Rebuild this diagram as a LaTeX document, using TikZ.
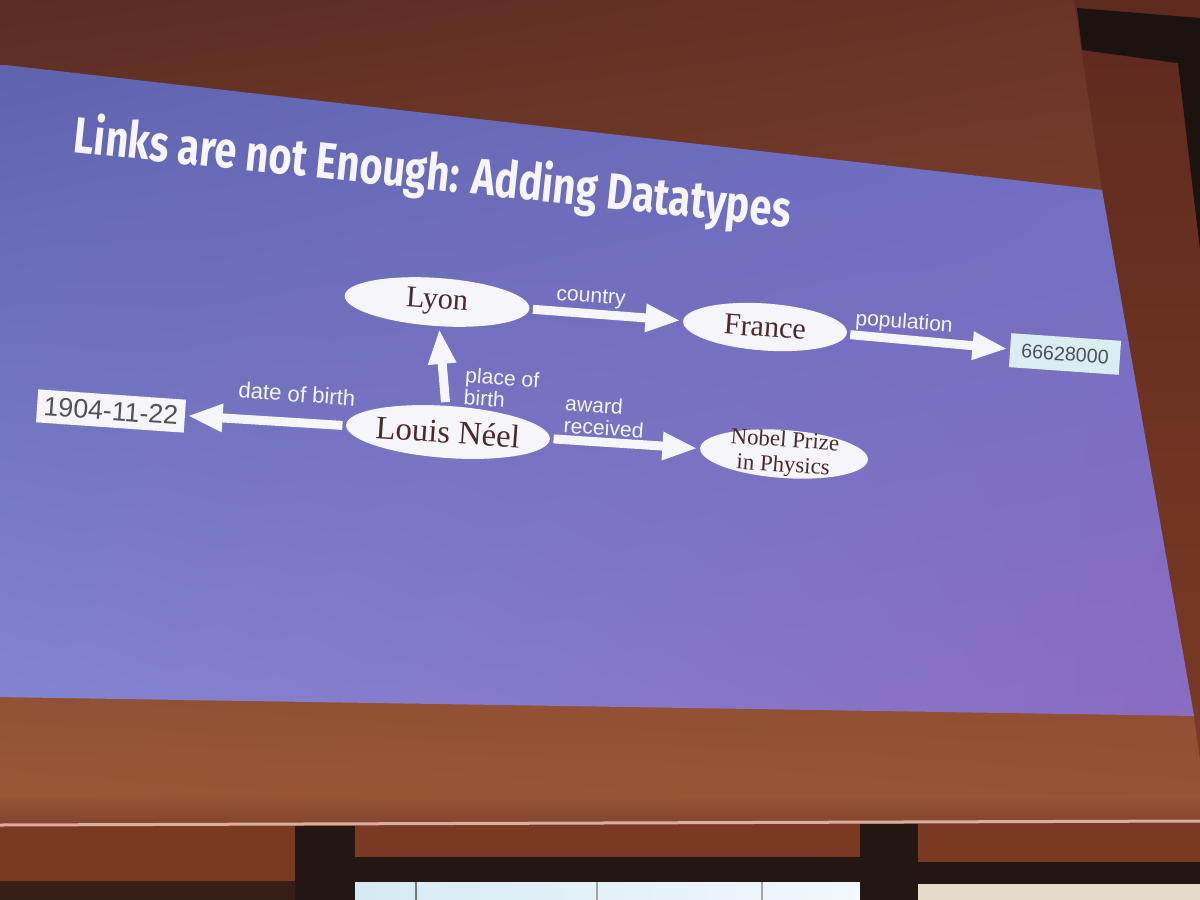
\documentclass[tikz,border=0pt]{standalone}
\usepackage{fontspec}
\usepackage{graphicx}
\setmainfont{Liberation Serif}
\setsansfont{Liberation Sans}
\newfontfamily\headfont{Fira Sans}
\usetikzlibrary{shapes.geometric,arrows.meta,shadings}

% room and screen
\definecolor{wallTL}{HTML}{5B2C22}
\definecolor{wallTR}{HTML}{6A3426}
\definecolor{wallBL}{HTML}{A25C3A}
\definecolor{wallBR}{HTML}{9C5636}
\definecolor{panelTop}{HTML}{5E2A1E}
\definecolor{panelBot}{HTML}{7A3A24}
\definecolor{frameblack}{HTML}{1C1210}
\definecolor{rollTop}{HTML}{9A5638}
\definecolor{rollBot}{HTML}{82442E}
\definecolor{screenedge}{HTML}{D8B0A0}
\definecolor{lowwall}{HTML}{7A3A22}
\definecolor{winframe}{HTML}{241713}
\definecolor{winlight}{HTML}{D6EAF4}
\definecolor{winbright}{HTML}{F2F8FC}
\definecolor{blind}{HTML}{E4DACA}
% slide
\definecolor{slideTL}{HTML}{5F63AE}
\definecolor{slideTR}{HTML}{6E70C2}
\definecolor{slideBL}{HTML}{8385D2}
\definecolor{slideBR}{HTML}{8A6CC2}
\definecolor{inkwhite}{HTML}{F5F5FA}
\definecolor{inkbrown}{HTML}{4A2A2C}
\definecolor{inkgray}{HTML}{505058}
\definecolor{datewhite}{HTML}{F6F6FA}
\definecolor{popcyan}{HTML}{DAEEF2}

\begin{document}
\begin{tikzpicture}[x=0.01cm,y=-0.01cm,
  entity/.style={ellipse, fill=inkwhite, inner xsep=0pt, inner ysep=-2.5pt,
    rotate=-4, text=inkbrown, align=center},
  literal/.style={rectangle, inner sep=0pt, rotate=-4, text=inkgray},
  rel/.style={draw=inkwhite, line width=0.09cm,
    -{Triangle[length=0.35cm,width=0.26cm]},
    shorten <=0.03cm, shorten >=0.02cm},
  lbl/.style={text=inkwhite, rotate=-4, inner sep=0pt, align=left,
    font=\sffamily\fontsize{6}{6.3}\selectfont}]
\useasboundingbox (0,0) rectangle (1200,900);

% wall and screen face
\shade[upper left=wallTL, upper right=wallTR, lower left=wallBL,
  lower right=wallBR] (0,0) rectangle (1200,900);
% side panel of the screen casing
\shade[top color=panelTop, bottom color=panelBot]
  (1074,0) -- (1200,0) -- (1200,760) -- (1194,716) -- (1102,190) -- cycle;
\fill[frameblack] (1077,8) -- (1200,18) -- (1200,60) -- (1177,63) -- (1082,50) -- cycle;
\fill[frameblack] (1177,55) -- (1200,55) -- (1200,250) -- cycle;

% projected slide
\shade[upper left=slideTL, upper right=slideTR, lower left=slideBL,
  lower right=slideBR] (5,65) -- (1102,190) -- (1194,716) -- (-4,697) -- (-4,65) -- cycle;

% lower roll of the screen
\shade[top color=rollTop, bottom color=rollBot]
  (0,798) -- (1200,794) -- (1200,821) -- (0,825) -- cycle;
\fill[lowwall] (0,826) -- (1200,822) -- (1200,900) -- (0,900) -- cycle;
\draw[screenedge, line width=0.03cm] (0,825) -- (1200,821);

% windows below the screen
\fill[winframe!80!lowwall] (0,881) rectangle (295,900);
\fill[winframe] (295,826) rectangle (355,900);
\fill[winframe] (355,857) rectangle (860,882);
\shade[left color=winlight, right color=winbright] (355,882) rectangle (860,900);
\fill[winframe!60!white] (415,882) rectangle (417,900);
\fill[winframe!40!white] (596,882) rectangle (598,900);
\fill[winframe!40!white] (761,882) rectangle (763,900);
\fill[winframe] (860,824) rectangle (918,900);
\fill[winframe] (918,862) rectangle (1200,884);
\fill[blind] (918,884) rectangle (1200,900);

% title
\node[anchor=base west, rotate=-6, inner sep=0pt, text=inkwhite] (title) at (72,152)
  {\resizebox{7.2cm}{\height}{\headfont\bfseries\fontsize{14.5}{16}\selectfont
   Links are not Enough: Adding Datatypes}};

% resources
\node[entity, minimum width=1.85cm, minimum height=0.48cm,
  font=\rmfamily\fontsize{8.6}{10}\selectfont] (lyon) at (437,302) {Lyon};
\node[entity, minimum width=1.64cm, minimum height=0.47cm,
  font=\rmfamily\fontsize{8.6}{10}\selectfont] (france) at (765,327) {France};
\node[entity, minimum width=1.86cm, minimum height=0.52cm,
  font=\rmfamily\fontsize{9.3}{11}\selectfont] (louis) at (448,432) {Louis Néel};
\node[entity, minimum width=1.68cm, minimum height=0.48cm, inner ysep=-3.5pt,
  font=\rmfamily\fontsize{6.5}{7.1}\selectfont] (nobel) at (784,454) {Nobel Prize\\in Physics};

% literal values
\node[literal, fill=datewhite, minimum width=1.48cm, minimum height=0.33cm,
  font=\sffamily\fontsize{7.6}{9}\selectfont] (date) at (111,411) {1904-11-22};
\node[literal, fill=popcyan, minimum width=1.1cm, minimum height=0.34cm,
  font=\sffamily\fontsize{5.6}{7}\selectfont] (pop) at (1065,354) {66628000};

% properties
\draw[rel] (lyon) -- (france);
\draw[rel] (france) -- (pop);
\draw[rel] (louis) -- (lyon);
\draw[rel] (louis) -- (date);
\draw[rel] (louis) -- (nobel);

\node[lbl] (lcountry) at (591,298) {country};
\node[lbl] (lpop) at (904,323) {population};
\node[lbl, anchor=west] (lplace) at (464,386) {place of\\birth};
\node[lbl, anchor=west] (laward) at (564,414) {award\\received};
\node[lbl, font=\sffamily\fontsize{6.3}{7}\selectfont] (ldate) at (297,394) {date of birth};
\end{tikzpicture}
\end{document}
